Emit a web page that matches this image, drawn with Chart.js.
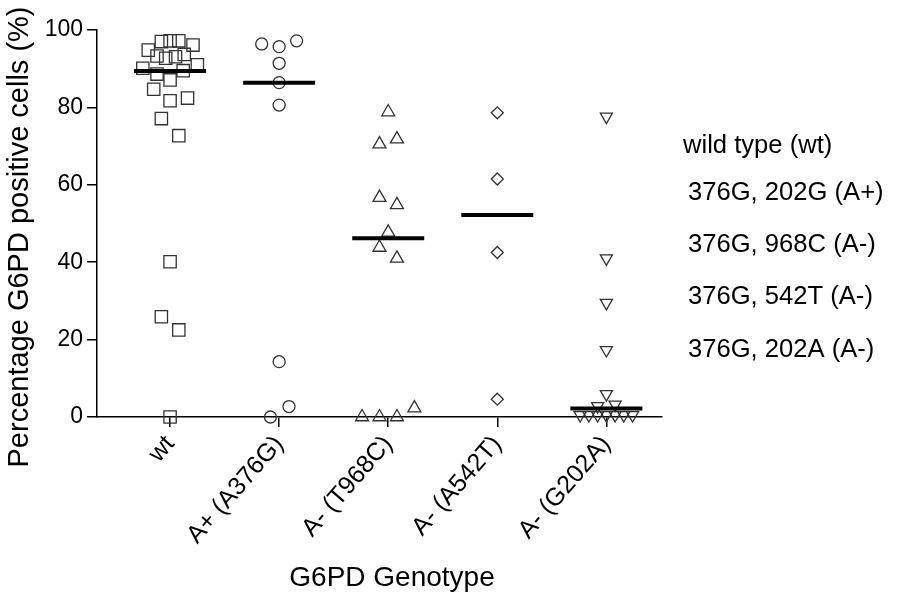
<!DOCTYPE html>
<html>
<head>
<meta charset="utf-8">
<script src="https://cdn.jsdelivr.net/npm/chart.js@4.4.1/dist/chart.umd.min.js"></script>
<style>
  html, body { margin: 0; padding: 0; background: #fff; }
  #g6pdCanvas { display: block; }
</style>
</head>
<body>
<canvas id="g6pdCanvas" width="898" height="594"></canvas>
<script>
// Genotype groups (x categories)
const GENOTYPES = ['wt', 'A+ (A376G)', 'A- (T968C)', 'A- (A542T)', 'A- (G202A)'];
const KEY_LABELS = ['wild type (wt)', '376G, 202G (A+)', '376G, 968C (A-)', '376G, 542T (A-)', '376G, 202A (A-)'];
const X_TITLE = 'G6PD Genotype';
const Y_TITLE = 'Percentage G6PD positive cells (%)';

// Percentage of G6PD positive cells per donor
const WT_VALUES = [97.2, 97.2, 97.0, 96.1, 94.8, 93.3, 92.7, 93.1, 93.7, 91.0, 90.1, 89.5, 88.6, 87.1, 84.7, 81.7, 82.4, 77.1, 72.7, 40.1, 25.9, 22.5, 0];
const APLUS_VALUES = [96.4, 95.7, 97.2, 91.4, 86.4, 80.6, 14.3, 2.7, 0];
const T968C_VALUES = [78.8, 70.5, 71.8, 56.7, 54.8, 47.7, 43.8, 41.0, 0, 0, 0, 2.3];
const A542T_VALUES = [78.6, 61.5, 42.5, 4.6];
const G202A_VALUES = [77.6, 41.0, 29.5, 17.3, 5.9, 2.8, 3.2, 0.5, 0.5, 0.5, 0.5, 0.5, 0.5, 0.5];

// group means (thick bars)
const MEANS = [89.4, 86.4, 46.2, 52.2, 2.2];

// horizontal scatter of the dots, in category units
const WT_SPREAD = [0, 0.08, -0.08, 0.21, -0.2, -0.12, -0.04, 0.05, 0.13, 0.25, -0.25, 0.12, -0.12, 0, -0.15, 0, 0.16, -0.08, 0.08, 0, -0.08, 0.08, 0];
const APLUS_SPREAD = [-0.16, 0, 0.16, 0, 0, 0, 0, 0.09, -0.08];
const T968C_SPREAD = [0, -0.08, 0.08, -0.08, 0.08, 0, -0.08, 0.08, -0.24, -0.08, 0.08, 0.24];
const A542T_SPREAD = [0, 0, 0, 0];
const G202A_SPREAD = [0, 0, 0, 0, 0, -0.08, 0.08, -0.24, -0.16, -0.08, 0, 0.08, 0.16, 0.24];

const FONT = "'Liberation Sans', Arial, sans-serif";
const INK = '#000';
const MARK = '#333';

const groups = [
  { values: WT_VALUES, spread: WT_SPREAD, style: 'rect', radius: 8.7, rotation: 0 },
  { values: APLUS_VALUES, spread: APLUS_SPREAD, style: 'circle', radius: 6, rotation: 0 },
  { values: T968C_VALUES, spread: T968C_SPREAD, style: 'triangle', radius: 7.5, rotation: 0 },
  { values: A542T_VALUES, spread: A542T_SPREAD, style: 'rectRot', radius: 6, rotation: 0 },
  { values: G202A_VALUES, spread: G202A_SPREAD, style: 'triangle', radius: 7, rotation: 180 },
];

const pointSets = groups.map((g, i) => ({
  label: GENOTYPES[i],
  data: g.values.map((v, k) => ({ x: i + g.spread[k], y: v })),
  pointStyle: g.style,
  pointRadius: g.radius,
  pointRotation: g.rotation,
  pointBorderColor: MARK,
  pointBackgroundColor: 'rgba(0,0,0,0)',
  pointBorderWidth: 1.3,
  showLine: false,
  clip: false,
  order: 1,
}));

const meanSets = MEANS.map((m, i) => ({
  label: GENOTYPES[i] + ' mean',
  data: [{ x: i - 0.33, y: m }, { x: i + 0.33, y: m }],
  showLine: true,
  borderColor: INK,
  borderWidth: 4,
  pointRadius: 0,
  clip: false,
  order: 0,
}));

// Axis titles and the text key on the right side
const chartText = {
  id: 'chartText',
  afterDraw(chart) {
    const { ctx } = chart;
    const spots = [[683, 146], [688, 193], [688, 245], [688, 297], [688, 350]];
    ctx.save();
    ctx.fillStyle = INK;
    ctx.textBaseline = 'middle';
    ctx.textAlign = 'left';
    ctx.font = `25.6px ${FONT}`;
    KEY_LABELS.forEach((t, i) => ctx.fillText(t, spots[i][0], spots[i][1]));

    ctx.textAlign = 'center';
    ctx.font = `28px ${FONT}`;
    ctx.fillText(X_TITLE, 392, 578);

    ctx.translate(20, 237);
    ctx.rotate(-Math.PI / 2);
    ctx.font = `29px ${FONT}`;
    ctx.fillText(Y_TITLE, 0, 0);
    ctx.restore();
  },
};

new Chart(document.getElementById('g6pdCanvas'), {
  type: 'scatter',
  data: { datasets: [...meanSets, ...pointSets] },
  plugins: [chartText],
  options: {
    responsive: false,
    animation: false,
    layout: { padding: { top: 30, right: 236, left: 0, bottom: 0 } },
    plugins: {
      legend: { display: false },
      tooltip: { enabled: false },
    },
    scales: {
      x: {
        type: 'linear',
        min: -0.67,
        max: 4.51,
        afterBuildTicks: (s) => { s.ticks = GENOTYPES.map((_, i) => ({ value: i })); },
        afterFit: (s) => { s.height = 177; },
        ticks: {
          callback: (v) => GENOTYPES[v],
          autoSkip: false,
          minRotation: 49,
          maxRotation: 49,
          color: INK,
          padding: 3,
          font: { family: FONT, size: 25 },
        },
        grid: { drawOnChartArea: false, tickLength: 10, color: INK, lineWidth: 1.5 },
        border: { color: INK, width: 1.5 },
      },
      y: {
        min: 0,
        max: 100,
        afterFit: (s) => { s.width = 97; },
        ticks: {
          stepSize: 20,
          color: INK,
          padding: 4,
          font: { family: FONT, size: 23 },
        },
        grid: { drawOnChartArea: false, tickLength: 10, color: INK, lineWidth: 1.5 },
        border: { color: INK, width: 1.5 },
      },
    },
  },
});
</script>
</body>
</html>
